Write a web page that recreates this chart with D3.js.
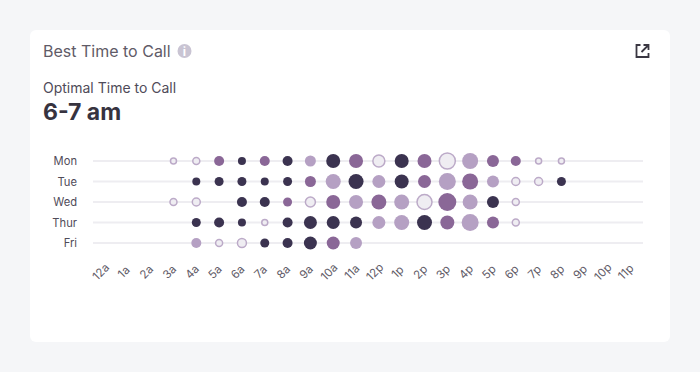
<!DOCTYPE html>
<html>
<head>
<meta charset="utf-8">
<script src="https://cdn.jsdelivr.net/npm/d3@7"></script>
<style>
  html, body { margin: 0; padding: 0; background: #f5f6f8; }
  svg { display: block; font-family: Inter, sans-serif; }
</style>
</head>
<body>
<div id="chart"></div>
<script>
const days = ['Mon', 'Tue', 'Wed', 'Thur', 'Fri'];
const hours = ['12a', '1a', '2a', '3a', '4a', '5a', '6a', '7a', '8a', '9a', '10a', '11a',
  '12p', '1p', '2p', '3p', '4p', '5p', '6p', '7p', '8p', '9p', '10p', '11p'];

// call volume per hour, null = no calls
const monCalls = [null, null, null, 30, 35, 50, 40, 50, 50, 55, 70, 70, 60, 70, 70, 80, 80, 60, 50, 30, 30, null, null, null];
const tueCalls = [null, null, null, null, 40, 45, 45, 40, 45, 55, 75, 75, 65, 70, 65, 85, 80, 60, 40, 40, 45, null, null, null];
const wedCalls = [null, null, null, 35, 40, null, 50, 50, 45, 50, 70, 70, 75, 75, 75, 90, 75, 60, 35, null, null, null, null, null];
const thuCalls = [null, null, null, null, 45, 50, 40, 30, 50, 65, 65, 60, 65, 75, 75, 70, 85, 60, 35, null, null, null, null, null];
const friCalls = [null, null, null, null, 50, 35, 45, 45, 50, 65, 65, 60, null, null, null, null, null, null, null, null, null, null, null, null];

// connect rate bucket per hour: 0 low, 1 fair, 2 good, 3 best
const monRate = [null, null, null, 0, 0, 2, 3, 2, 3, 1, 3, 2, 0, 3, 2, 0, 1, 2, 2, 0, 0, null, null, null];
const tueRate = [null, null, null, null, 3, 3, 3, 3, 3, 2, 1, 3, 1, 3, 2, 1, 2, 1, 0, 0, 3, null, null, null];
const wedRate = [null, null, null, 0, 0, null, 3, 3, 2, 0, 2, 1, 2, 1, 0, 2, 1, 3, 0, null, null, null, null, null];
const thuRate = [null, null, null, null, 3, 3, 3, 0, 3, 3, 3, 3, 1, 1, 3, 2, 1, 2, 0, null, null, null, null, null];
const friRate = [null, null, null, null, 1, 0, 0, 3, 3, 3, 2, 1, null, null, null, null, null, null, null, null, null, null, null, null];

const allCalls = [monCalls, tueCalls, wedCalls, thuCalls, friCalls];
const allRates = [monRate, tueRate, wedRate, thuRate, friRate];

const width = 700, height = 372;
const ink = '#4f4b59';

const svg = d3.select('#chart').append('svg')
  .attr('width', width)
  .attr('height', height);

// card
svg.append('rect')
  .attr('x', 30).attr('y', 30)
  .attr('width', 640).attr('height', 312)
  .attr('rx', 6)
  .attr('fill', '#fff');

// header
svg.append('text')
  .attr('x', 43).attr('y', 57)
  .attr('font-size', 16)
  .attr('fill', '#5f5b67')
  .text('Best Time to Call');

svg.append('circle')
  .attr('cx', 184.5).attr('cy', 51)
  .attr('r', 7)
  .attr('fill', '#c9c4d3');
svg.append('text')
  .attr('x', 184.5).attr('y', 55.5)
  .attr('text-anchor', 'middle')
  .attr('font-size', 12)
  .attr('font-weight', 700)
  .attr('fill', '#fff')
  .text('i');

svg.append('text')
  .attr('x', 43).attr('y', 93)
  .attr('font-size', 14)
  .attr('fill', ink)
  .text('Optimal Time to Call');

svg.append('text')
  .attr('x', 43).attr('y', 120)
  .attr('font-size', 23)
  .attr('font-weight', 700)
  .attr('fill', '#37333f')
  .text('6-7 am');

// open in new window icon
const icon = svg.append('g')
  .attr('transform', 'translate(635.5,44)')
  .attr('fill', 'none')
  .attr('stroke', '#3a3742')
  .attr('stroke-width', 1.8);
icon.append('path').attr('d', 'M5 1H1V13H13V9');
icon.append('path').attr('d', 'M6 8L13 1M8 1H13V6');

// scales
const x = d3.scaleBand().domain(hours).range([93.6, 641.3]);
const y = d3.scalePoint().domain(days).range([161, 243]);
const r = d3.scaleLinear().domain([0, 100]).range([0, 10]);
const fill = d3.scaleOrdinal().domain([0, 1, 2, 3]).range(['#efedf2', '#b5a0c3', '#8a6797', '#3b3350']);
const stroke = d3.scaleOrdinal().domain([0, 1, 2, 3]).range(['#bcaac8', 'none', 'none', 'none']);

// row lines
svg.append('g')
  .selectAll('line')
  .data(days)
  .join('line')
  .attr('x1', 93).attr('x2', 643)
  .attr('y1', d => y(d)).attr('y2', d => y(d))
  .attr('stroke', '#eeedf1')
  .attr('stroke-width', 2);

// axes
const yAxis = svg.append('g')
  .attr('transform', 'translate(77,0)')
  .call(d3.axisLeft(y).tickSize(0).tickPadding(0));
yAxis.select('.domain').remove();
yAxis.selectAll('text')
  .attr('font-family', 'Inter, sans-serif')
  .attr('font-size', 11.2)
  .attr('fill', ink);

const xAxis = svg.append('g')
  .attr('transform', 'translate(-7,269)')
  .call(d3.axisBottom(x).tickSize(0).tickPadding(0));
xAxis.select('.domain').remove();
xAxis.selectAll('text')
  .attr('font-family', 'Inter, sans-serif')
  .attr('font-size', 11.5)
  .attr('fill', '#5f5b67')
  .attr('text-anchor', 'middle')
  .attr('dy', '0.7em')
  .attr('transform', 'rotate(-45)');

// dots
const cells = [];
days.forEach((day, i) => {
  hours.forEach((hour, j) => {
    if (allCalls[i][j] !== null) {
      cells.push({day: day, hour: hour, calls: allCalls[i][j], rate: allRates[i][j]});
    }
  });
});

svg.append('g')
  .selectAll('circle')
  .data(cells)
  .join('circle')
  .attr('cx', d => x(d.hour) + x.bandwidth() / 2)
  .attr('cy', d => y(d.day))
  .attr('r', d => r(d.calls))
  .attr('fill', d => fill(d.rate))
  .attr('stroke', d => stroke(d.rate))
  .attr('stroke-width', 1.5);
</script>
</body>
</html>
